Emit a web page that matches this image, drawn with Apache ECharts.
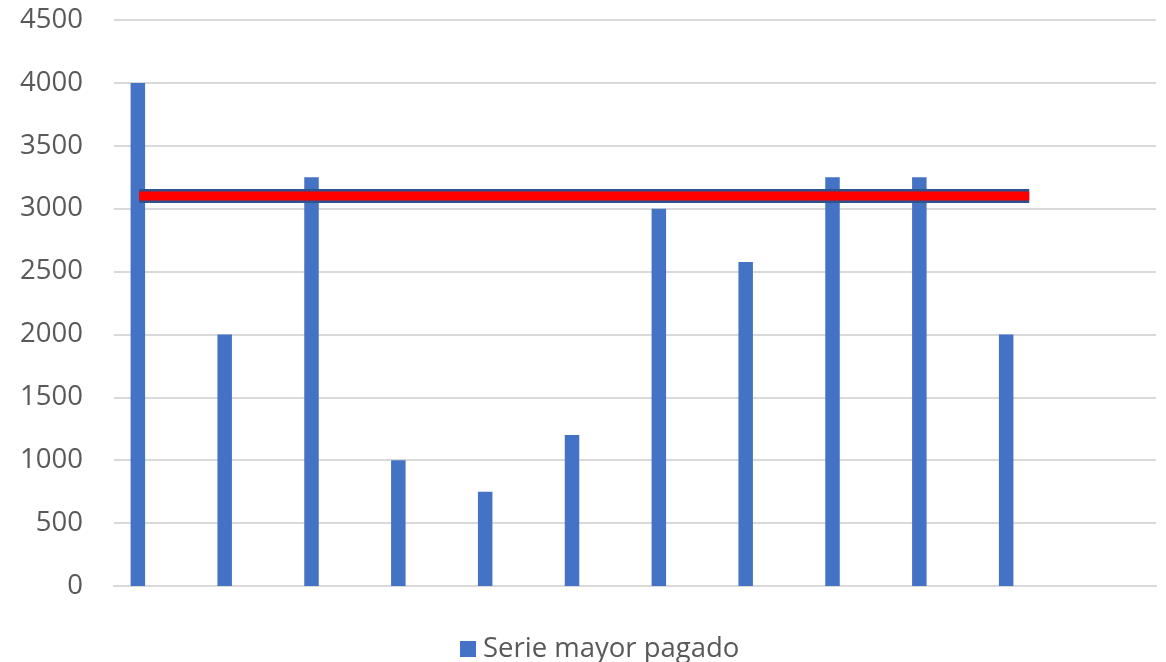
<!DOCTYPE html>
<html>
<head>
<meta charset="utf-8">
<script src="https://cdn.jsdelivr.net/npm/echarts@6/dist/echarts.min.js"></script>
<style>
html,body{margin:0;padding:0;background:#fff;}
#chart{width:1166px;height:662px;}
</style>
</head>
<body>
<div id="chart"></div>
<script>
// Data
const categories = ['1','2','3','4','5','6','7','8','9','10','11','12'];
const serieMayorPagado = [4000, 2000, 3250, 1000, 750, 1200, 3000, 2575, 3250, 3250, 2000, '-'];
const promedioValor = 3100;
// extent of the red reference line, in category units along the axis
const promedioInicio = 0.29;
const promedioFin = 10.54;
const yTicks = {min: 0, max: 4500, interval: 500};

const promedioData = [[promedioInicio, promedioValor], [promedioFin, promedioValor]];

const chart = echarts.init(document.getElementById('chart'));
chart.setOption({
  backgroundColor: '#ffffff',
  animation: false,
  grid: {left: 114, right: 10, top: 20, bottom: 76, containLabel: false},
  legend: {
    data: ['Serie mayor pagado'],
    left: 455, top: 630,
    icon: 'rect', itemWidth: 16, itemHeight: 16,
    textStyle: {fontFamily: 'Open Sans', fontSize: 27.5, color: '#595959', padding: [0,0,0,2]}
  },
  xAxis: [{
    type: 'category', data: categories,
    axisLine: {show: true, lineStyle: {color: '#D9D9D9', width: 2}},
    axisTick: {show: false}, axisLabel: {show: false}, splitLine: {show: false}
  }, {
    type: 'value', min: 0, max: categories.length, show: false
  }],
  yAxis: {
    type: 'value', min: yTicks.min, max: yTicks.max, interval: yTicks.interval,
    axisLine: {show: false}, axisTick: {show: false},
    axisLabel: {fontFamily: 'Open Sans', fontSize: 27.5, color: '#595959', margin: 31,
      formatter: v => String(v)},
    splitLine: {lineStyle: {color: '#D9D9D9', width: 2}}
  },
  series: [{
    name: 'Serie mayor pagado', type: 'bar', data: serieMayorPagado,
    barWidth: 14.5, barGap: '170%',
    itemStyle: {color: '#4472C4'}
  }, {
    name: 'hueco', type: 'bar', data: categories.map(() => '-'),
    barWidth: 14.5
  }, {
    name: 'Promedio borde', type: 'line', xAxisIndex: 1, data: promedioData,
    symbol: 'none', lineStyle: {color: '#2F528F', width: 14, cap: 'butt'}, z: 5
  }, {
    name: 'Promedio', type: 'line', xAxisIndex: 1, data: promedioData,
    symbol: 'none', lineStyle: {color: '#FF0000', width: 9, cap: 'butt'}, z: 6
  }]
});
</script>
</body>
</html>
